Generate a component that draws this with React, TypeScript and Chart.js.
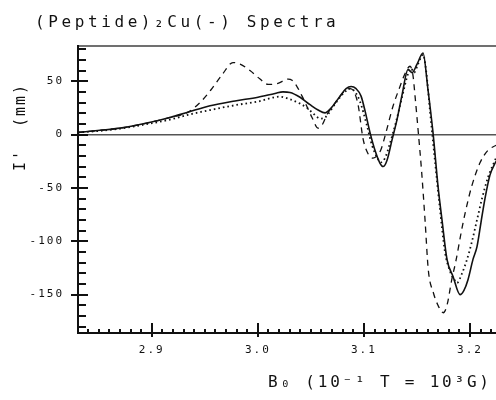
import React, { useEffect, useRef } from 'react';
import { Chart, registerables } from 'chart.js';

Chart.register(...registerables);

// ---- data (field in 10^-1 T, intensity I' in mm) ----
const solidField = [2.8305, 2.8513, 2.8701, 2.8965, 2.9172, 2.9342, 2.9550, 2.9785, 3.0002, 3.0162, 3.0237, 3.0303, 3.0398, 3.0492, 3.0568, 3.0634, 3.0662, 3.0709, 3.0775, 3.0832, 3.0879, 3.0926, 3.0973, 3.1011, 3.1057, 3.1105, 3.1152, 3.1180, 3.1218, 3.1265, 3.1312, 3.1359, 3.1416, 3.1454, 3.1501, 3.1557, 3.1604, 3.1651, 3.1698, 3.1736, 3.1783, 3.1840, 3.1906, 3.1943, 3.1981, 3.2028, 3.2066, 3.2104, 3.2141, 3.2188, 3.2245];
const solidValues = [2, 4, 6, 11, 16, 21, 27, 31.5, 35, 38.5, 40, 39.5, 35, 28, 23, 20.3, 22, 27, 36, 43, 45, 43, 36, 22, 2, -15, -27, -30, -24, -5, 14, 37, 61, 58, 66, 76.5, 42, 2, -48, -80, -117, -133, -150, -146, -136, -117, -105, -82, -60, -38, -25];

const dottedField = [2.8305, 2.8513, 2.8701, 2.8965, 2.9172, 2.9342, 2.9550, 2.9785, 3.0002, 3.0209, 3.0303, 3.0398, 3.0464, 3.0530, 3.0587, 3.0634, 3.0662, 3.0709, 3.0775, 3.0832, 3.0869, 3.0917, 3.0963, 3.1026, 3.1076, 3.1133, 3.1161, 3.1199, 3.1246, 3.1303, 3.1359, 3.1416, 3.1444, 3.1472, 3.1510, 3.1557, 3.1586, 3.1623, 3.1670, 3.1717, 3.1764, 3.1811, 3.1859, 3.1877, 3.1925, 3.1972, 3.2019, 3.2066, 3.2113, 3.2170, 3.2245];
const dottedValues = [2, 3.5, 5.5, 10, 14, 18.5, 23, 27.5, 31, 35.5, 33, 29, 25, 19, 15, 16, 19, 26, 35, 41, 43, 40, 31, 9.4, -10, -23, -26, -22, -8, 12, 35, 57, 62, 58, 66, 75, 60, 22, -25, -70, -110, -128, -137, -139, -130, -117, -100, -80, -60, -40, -22];

const dashedField = [2.8305, 2.8513, 2.8701, 2.8965, 2.9172, 2.9342, 2.9455, 2.9559, 2.9663, 2.9766, 2.9833, 2.9926, 3.0021, 3.0096, 3.0190, 3.0285, 3.0322, 3.0369, 3.0417, 3.0464, 3.0511, 3.0568, 3.0606, 3.0653, 3.0709, 3.0775, 3.0832, 3.0869, 3.0907, 3.0945, 3.0992, 3.1039, 3.1086, 3.1123, 3.1161, 3.1208, 3.1274, 3.1340, 3.1387, 3.1435, 3.1463, 3.1482, 3.1513, 3.1545, 3.1576, 3.1607, 3.1654, 3.1698, 3.1748, 3.1783, 3.1828, 3.1868, 3.1922, 3.1962, 3.2016, 3.2094, 3.2167, 3.2245];
const dashedValues = [2, 4, 6, 11, 16, 21, 30, 42, 56, 67.5, 66, 60, 52, 47, 48, 52, 51, 45, 36, 26, 16, 6, 9, 19, 27, 36, 42, 43, 40, 28, -4, -18, -22, -20, -14, 2, 26.5, 45, 57, 64, 55, 36, 1.6, -36, -80, -127, -148, -160, -167, -160, -136, -118, -89, -70, -48.5, -26.5, -15, -10];

const xTickValues = [2.9, 3.0, 3.1, 3.2];
const yTickValues = [-150, -100, -50, 0, 50];

const X_MIN = 2.8305;
const X_MAX = 3.2245;
const Y_MIN = -186;
const Y_MAX = 83;
const X_MINOR_STEP = 0.01;
const Y_MINOR_STEP = 10;

const TITLE = '(Peptide)\u2082Cu(-) Spectra';
const X_TITLE = 'B\u2080 (10\u207B\u00B9 T = 10\u00B3G)';
const Y_TITLE = "I'  (mm)";

const FONT = "'DejaVu Sans Mono', monospace";

const zip = (xs: number[], ys: number[]) => xs.map((x, i) => ({ x, y: ys[i] }));

const decorPlugin = {
  id: 'decor',
  beforeDraw(chart: any) {
    (chart.ctx as any).letterSpacing = '2px';
  },
  beforeDatasetsDraw(chart: any) {
    const { ctx, chartArea } = chart;
    const ys = chart.scales.y;
    const { left, right, top } = chartArea;
    ctx.save();
    ctx.setLineDash([]);
    ctx.fillStyle = '#707070';
    ctx.fillRect(left, Math.round(top) - 1, right - left, 2);
    const y0 = Math.round(ys.getPixelForValue(0));
    ctx.fillStyle = '#555';
    ctx.fillRect(left, y0 - 1, right - left, 1.5);
    ctx.restore();
  },
  afterDraw(chart: any) {
    const { ctx, chartArea } = chart;
    const xs = chart.scales.x;
    const ys = chart.scales.y;
    const L = Math.round(chartArea.left);
    const B = Math.round(chartArea.bottom);
    const T = Math.round(chartArea.top);
    const R = Math.round(chartArea.right);
    ctx.save();
    ctx.setLineDash([]);
    ctx.fillStyle = '#111';
    // axes
    ctx.fillRect(L - 1, T - 1, 2, B - T + 2);
    ctx.fillRect(L - 1, B - 1, R - L + 1, 2);
    // y ticks
    for (let k = -18; k <= 8; k++) {
      const v = k * Y_MINOR_STEP;
      const py = Math.round(ys.getPixelForValue(v));
      const major = yTickValues.indexOf(v) >= 0;
      if (major) ctx.fillRect(L - 7, py - 1, 17, 2);
      else ctx.fillRect(L, py - 1, 8, 2);
    }
    // x ticks
    const start = Math.ceil(X_MIN / X_MINOR_STEP);
    const end = Math.floor(X_MAX / X_MINOR_STEP);
    for (let k = start; k <= end; k++) {
      const v = k * X_MINOR_STEP;
      const px = Math.round(xs.getPixelForValue(v));
      const major = xTickValues.some((t) => Math.abs(t - v) < 1e-6);
      if (major) ctx.fillRect(px - 1, B - 10, 2, 14);
      else ctx.fillRect(px - 1, B - 4, 2, 4);
    }

    ctx.textBaseline = 'alphabetic';
    // title
    ctx.letterSpacing = '3.6px';
    ctx.font = `16px ${FONT}`;
    ctx.textAlign = 'left';
    ctx.fillText(TITLE, 35, 27);
    // x title
    ctx.letterSpacing = '2.8px';
    ctx.font = `16px ${FONT}`;
    ctx.fillText(X_TITLE, 268, 387);
    // y title
    ctx.translate(25, 127);
    ctx.rotate(-Math.PI / 2);
    ctx.letterSpacing = '2px';
    ctx.font = `15px ${FONT}`;
    ctx.textAlign = 'center';
    ctx.fillText(Y_TITLE, 0, 0);
    ctx.restore();
  },
};

export default function App() {
  const canvasRef = useRef<HTMLCanvasElement | null>(null);

  useEffect(() => {
    const canvas = canvasRef.current;
    if (!canvas) return;
    const lineColor = '#111';
    const chart = new Chart(canvas, {
      type: 'line',
      data: {
        datasets: [
          {
            label: 'solid',
            data: zip(solidField, solidValues),
            borderColor: lineColor,
            borderWidth: 1.6,
            pointRadius: 0,
            fill: false,
            cubicInterpolationMode: 'monotone',
          },
          {
            label: 'dotted',
            data: zip(dottedField, dottedValues),
            borderColor: lineColor,
            borderWidth: 1.8,
            borderDash: [1.6, 3],
            pointRadius: 0,
            fill: false,
            cubicInterpolationMode: 'monotone',
          },
          {
            label: 'dashed',
            data: zip(dashedField, dashedValues),
            borderColor: lineColor,
            borderWidth: 1.3,
            borderDash: [6, 5],
            pointRadius: 0,
            fill: false,
            cubicInterpolationMode: 'monotone',
          },
        ],
      },
      options: {
        animation: false,
        responsive: false,
        devicePixelRatio: 1,
        layout: { padding: { top: 46, left: 0, right: 0, bottom: 0 } },
        plugins: {
          legend: { display: false },
          tooltip: { enabled: false },
          title: { display: false },
        },
        scales: {
          x: {
            type: 'linear',
            min: X_MIN,
            max: X_MAX,
            grid: { display: false, drawTicks: false },
            border: { display: false },
            afterFit: (s: any) => {
              s.height = 67;
            },
            afterBuildTicks: (s: any) => {
              s.ticks = xTickValues.map((value) => ({ value }));
            },
            ticks: {
              padding: 11,
              color: '#111',
              font: { family: FONT, size: 11 },
              maxRotation: 0,
              autoSkip: false,
              callback: (v: any) => Number(v).toFixed(1),
            },
          },
          y: {
            type: 'linear',
            min: Y_MIN,
            max: Y_MAX,
            grid: { display: false, drawTicks: false },
            border: { display: false },
            afterFit: (s: any) => {
              s.width = 78;
            },
            afterBuildTicks: (s: any) => {
              s.ticks = yTickValues.map((value) => ({ value }));
            },
            ticks: {
              padding: 14,
              color: '#111',
              font: { family: FONT, size: 11 },
              autoSkip: false,
              callback: (v: any) => String(v),
            },
          },
        },
      },
      plugins: [decorPlugin],
    } as any);
    return () => chart.destroy();
  }, []);

  return (
    <div style={{ position: 'absolute', left: 0, top: 0, width: 496, height: 400, background: '#fff' }}>
      <canvas ref={canvasRef} width={496} height={400} style={{ display: 'block' }} />
    </div>
  );
}
